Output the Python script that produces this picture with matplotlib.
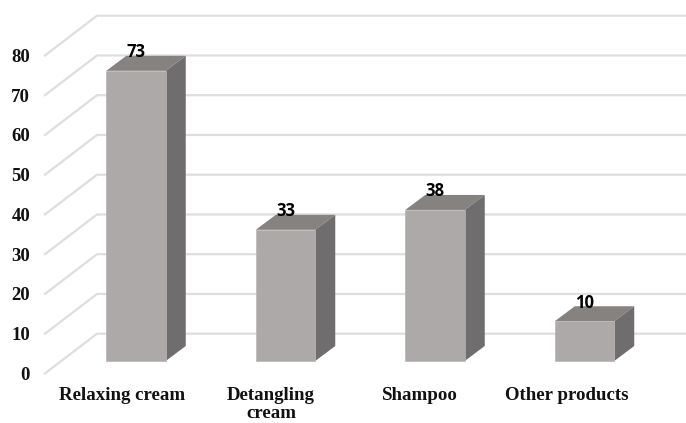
import numpy as np
import matplotlib
matplotlib.use("Agg")
import matplotlib.pyplot as plt
from matplotlib.patches import Polygon

categories = ["Relaxing cream", "Detangling\ncream", "Shampoo", "Other products"]
values = [73, 33, 38, 10]
y_ticks = [0, 10, 20, 30, 40, 50, 60, 70, 80]

W, H = 686, 423
PX_X = 149.5          # pixels per category
PX_Y = 3.975          # pixels per value unit
X0, Y0 = 136.0, 361   # pixel position of first category, value 0

bar_w = 59.5 / PX_X
depth_x = 20 / PX_X
depth_y = 15 / PX_Y
wall_x = (97 - X0) / PX_X
wall_y = (361 - 333.7) / PX_Y
floor_x = (45 - X0) / PX_X
floor_y = (361 - 373.4) / PX_Y

fig = plt.figure(figsize=(W / 100, H / 100), dpi=100)
ax = fig.add_axes([0, 0, 1, 1])
ax.set_xlim(-X0 / PX_X, (W - X0) / PX_X)
ax.set_ylim((Y0 - H) / PX_Y, Y0 / PX_Y)
ax.axis("off")

# Gridlines: a diagonal on the side wall, then a run along the back wall
for v in y_ticks:
    ax.plot([floor_x, wall_x, (W - X0) / PX_X],
            [v + floor_y, v + wall_y, v + wall_y],
            color="#dedede", lw=1.6, zorder=1, solid_joinstyle="miter")
    ax.text((30 - X0) / PX_X, v + floor_y - 2 / PX_Y, str(v),
            ha="right", va="center", family="Liberation Serif",
            weight="bold", fontsize=13.5, color="#111111", zorder=5)

# Extruded bars
for i, (name, v) in enumerate(zip(categories, values)):
    l, r = i - bar_w / 2, i + bar_w / 2
    ax.add_patch(Polygon([(l, v), (r, v), (r + depth_x, v + depth_y), (l + depth_x, v + depth_y)],
                         closed=True, fc="#868280", ec="none", zorder=2))
    ax.add_patch(Polygon([(r, 0), (r + depth_x, depth_y), (r + depth_x, v + depth_y), (r, v)],
                         closed=True, fc="#6f6d6d", ec="none", zorder=2))
    ax.add_patch(Polygon([(l, 0), (r, 0), (r, v), (l, v)],
                         closed=True, fc="#ada9a8", ec="#b8b5b4", lw=0.5, zorder=3))
    ax.text(i, v + 18.5 / PX_Y, str(v), ha="center", va="center",
            family="Open Sans", weight="bold", fontsize=12, color="black", zorder=6)

# Category labels under the floor
label_x = [122, 271, 420, 567]
for name, px in zip(categories, label_x):
    ax.text((px - X0) / PX_X, (Y0 - 386.5) / PX_Y, name, ha="center", va="top",
            family="Liberation Serif", weight="bold", fontsize=13.6,
            color="#111111", linespacing=1.12, zorder=5)

fig.savefig("out.png", dpi=100, facecolor="white")
